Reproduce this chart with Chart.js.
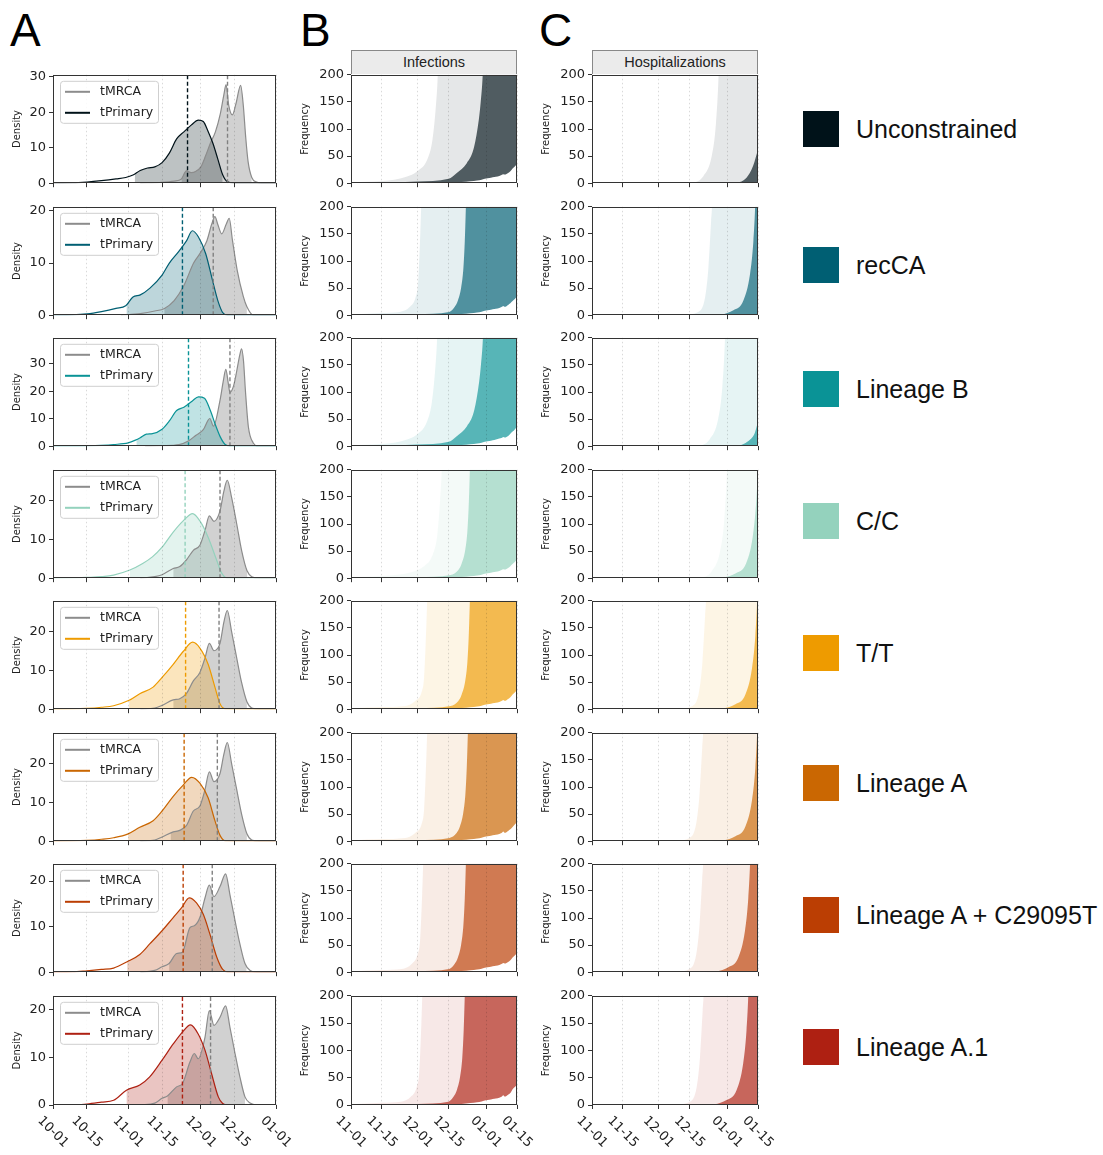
<!DOCTYPE html>
<html lang="en">
<head>
<meta charset="UTF-8">
<title>tPrimary / tMRCA densities and simulated epidemics</title>
<script src="https://cdn.jsdelivr.net/npm/chart.js"></script>
<style>
  body { margin: 0; background: #fff; width: 1103px; height: 1155px; position: relative; overflow: hidden;
         font-family: "Liberation Sans", Arial, sans-serif; }
  .letter { position: absolute; font-size: 46px; line-height: 1; color: #000; }
  .strip { position: absolute; top: 50px; width: 166px; height: 24px; box-sizing: border-box; background: #ebebeb;
           border: 1px solid #888; border-bottom: none; font-size: 14.5px; text-align: center; line-height: 23px; color: #222; }
  .key { position: absolute; left: 803px; height: 36px; display: flex; align-items: center; font-size: 25px; color: #111; white-space: nowrap; }
  .key .sw { width: 36px; height: 36px; margin-right: 17px; }
</style>
</head>
<body>
<div class="letter" style="left:10px;top:7px">A</div>
<div class="letter" style="left:300px;top:7px">B</div>
<div class="letter" style="left:539px;top:7px">C</div>
<div class="strip" style="left:351px">Infections</div>
<div class="strip" style="left:592px">Hospitalizations</div>
<div id="keys"></div>
<script>
const lineages = ['Unconstrained', 'recCA', 'Lineage B', 'C/C', 'T/T', 'Lineage A', 'Lineage A + C29095T', 'Lineage A.1'];
const lineageColors = ['#001219', '#005f73', '#0a9396', '#94d2bd', '#ee9b00', '#ca6702', '#bb3e03', '#ae2012'];
const keyCenters = [129, 265, 389, 521, 653, 783, 915, 1047];

// panel A: days since 10-01
const densityTickDays = [0, 14, 31, 45, 61, 75, 92];
const densityTickLabels = ['10-01', '10-15', '11-01', '11-15', '12-01', '12-15', '01-01'];
const densityMax = [30.6, 20.8, 39.5, 28, 28, 28, 23.8, 22.9];
const densityTicks = [[0, 10, 20, 30], [0, 10, 20], [0, 10, 20, 30], [0, 10, 20], [0, 10, 20], [0, 10, 20], [0, 10, 20], [0, 10, 20]];

const primaryDays = [
  [0, 8, 14, 20, 26, 30, 33, 36, 39, 42, 45, 48, 51, 54, 57, 60, 62, 64, 66, 68, 70, 72, 75, 92],
  [0, 8, 14, 20, 26, 30, 33, 36, 40, 45, 48, 52, 55, 57.5, 60, 63, 66, 68, 70, 72, 92],
  [0, 8, 14, 20, 25, 31, 34, 36, 38.5, 41, 45, 48, 51, 54, 57.5, 60, 62.5, 65, 67, 69, 71, 73, 92],
  [0, 8, 14, 20, 25, 31.7, 37, 41, 45, 49.6, 53.7, 57.6, 60.6, 64, 67.5, 69.6, 72, 92],
  [0, 8, 14, 20, 25, 31.4, 35.8, 41.3, 45, 49.6, 53.7, 57.6, 60.6, 64, 66.8, 68.9, 71, 92],
  [0, 8, 14, 20, 25, 31, 35.8, 41.3, 45, 49.6, 53.7, 57.2, 60.6, 64, 66.8, 68.9, 71, 92],
  [0, 8, 14, 20, 25, 30.6, 35.8, 39.9, 45, 49.6, 53, 56.2, 59.2, 62, 64.7, 67.5, 70, 72, 92],
  [0, 8, 14, 20, 25, 30.3, 35.8, 39.9, 45, 49.6, 53.4, 56.7, 59.9, 62.7, 65.4, 68.2, 70, 72, 92]
];
const primaryDensity = [
  [0, 0.05, 0.3, 0.7, 1.2, 1.6, 2.3, 3.6, 4.3, 4.6, 5.8, 8.5, 12.5, 14.5, 16.4, 17.8, 17.4, 14.6, 11.2, 6.8, 2.4, 0.4, 0, 0],
  [0, 0.05, 0.25, 0.7, 1.3, 1.8, 3.5, 3.9, 5.2, 7.7, 10, 12.3, 14.2, 16.2, 15, 11.8, 6.3, 2.8, 0.5, 0, 0],
  [0, 0, 0.1, 0.3, 0.6, 1.2, 2.2, 3.1, 4.4, 4.6, 6.2, 9.2, 13, 14.2, 16.5, 18, 17.5, 12.8, 7.8, 3.4, 0.6, 0, 0],
  [0, 0.05, 0.2, 0.4, 0.8, 2.1, 3.8, 5.5, 8, 11.9, 14.8, 16.7, 14.8, 10.6, 4.7, 1.3, 0, 0],
  [0, 0.05, 0.2, 0.5, 0.9, 2.3, 4, 5.7, 8.2, 11.6, 14.9, 17.3, 15.8, 11.6, 5.7, 1.4, 0.1, 0],
  [0, 0.05, 0.2, 0.5, 0.9, 1.9, 3.6, 5.3, 7.8, 11.6, 14.5, 16.5, 15, 11.2, 5.3, 1.5, 0.1, 0],
  [0, 0.05, 0.3, 0.6, 0.9, 2.3, 3.9, 6.2, 9.1, 12, 14.1, 16.3, 15.2, 12.7, 8.4, 3.4, 0.6, 0, 0],
  [0, 0.05, 0.2, 0.6, 1, 3.1, 4.2, 5.9, 9.4, 12.8, 15.3, 16.8, 14.9, 11.5, 6.6, 1.7, 0.3, 0, 0]
];
const primaryHpd = [[33.7, 70], [30.3, 70], [34.4, 70.5], [31.7, 69.6], [31.4, 68.9], [31, 68.9], [30.6, 70], [30.3, 70]];
const primaryMedian = [55.5, 53.4, 55.9, 54.5, 54.7, 54.1, 53.7, 53.4];

const mrcaDays = [
  [36, 44, 50, 53, 55, 57, 59, 61, 63, 65, 67, 69, 70.5, 71.4, 72.5, 74, 75.5, 77.4, 78.5, 79.5, 80.5, 82, 84, 86, 92],
  [28, 36, 42, 46, 50, 54, 58, 61, 63.5, 65.5, 66.8, 68, 69.6, 71.5, 72.7, 74, 76, 78.5, 80, 82.6, 86, 92],
  [38, 45, 52, 56, 59, 62, 64.7, 66.2, 68.9, 70.3, 71.3, 72.3, 73, 74.5, 75.8, 77, 77.8, 78.6, 79.4, 80.6, 82.6, 84.7, 92],
  [36, 42, 45, 49.6, 52.3, 55, 57.9, 60.6, 62.7, 64.5, 66.4, 68.9, 70.5, 71.9, 73.7, 75.8, 77.8, 80, 82, 85, 92],
  [36, 42, 45, 49.6, 52.3, 55, 57.9, 60.6, 62.7, 64.5, 66.4, 68.9, 70.5, 71.9, 73.7, 75.8, 77.8, 80, 82, 85, 92],
  [36, 42, 45, 49.6, 52.3, 55, 57.9, 60.6, 62.7, 64.5, 66.4, 68.9, 70.5, 71.9, 73.7, 75.8, 77.8, 80, 82, 85, 92],
  [36, 42, 45, 47.9, 51, 53.4, 56.5, 58.3, 60.6, 62.7, 64.5, 66.4, 68.9, 71.2, 73, 75.1, 77.1, 79.2, 81.3, 84, 92],
  [36, 42, 45, 47.2, 51, 53.4, 56.5, 58.3, 59.9, 62.7, 64.5, 66.4, 68.9, 71.2, 73, 75.1, 77.1, 79.2, 81.3, 84, 92]
];
const mrcaDensity = [
  [0, 0.2, 0.6, 1.2, 3.5, 3.0, 3.4, 4.6, 7.8, 11.4, 14.5, 19.5, 25, 27.8, 22, 19.3, 22.5, 27.6, 22, 13, 6, 1.6, 0.3, 0, 0],
  [0, 0.3, 0.8, 1.3, 2.8, 5.7, 10, 12.1, 14.3, 17.5, 18.9, 17.4, 15.6, 17.5, 18.6, 14.5, 8.6, 3.6, 1.6, 0, 0, 0],
  [0, 0.2, 0.6, 2, 4, 6, 10.1, 7.3, 16.7, 24, 28, 23, 19.6, 22, 27.4, 33, 35.5, 31, 20, 7.1, 1.2, 0, 0],
  [0, 0.4, 0.9, 2.5, 3, 4.7, 7.2, 8.5, 12.3, 16.1, 14.7, 17.4, 22.5, 25.3, 20.8, 14, 7.2, 2, 0.4, 0, 0],
  [0, 0.3, 1, 2.4, 2.7, 4, 7.3, 9.5, 13.2, 17, 15.1, 17, 22.5, 25.5, 20, 13.2, 6.9, 1.9, 0.3, 0, 0],
  [0, 0.3, 1.1, 2.4, 2.8, 4, 7.8, 9.1, 13.3, 17.9, 15.4, 17.5, 22.5, 25.5, 20, 13.3, 7, 1.9, 0.3, 0, 0],
  [0, 0.4, 1.2, 1.9, 4.1, 4.4, 9.8, 10.2, 12, 16.3, 19.1, 16.6, 18.8, 21.6, 17, 11.3, 6.2, 1.9, 0.4, 0, 0],
  [0, 0.4, 1.4, 1.9, 3.8, 4.5, 9, 10.8, 9.7, 14.2, 19.8, 16.7, 18.4, 20.8, 16.3, 10.8, 5.9, 1.7, 0.4, 0, 0]
];
const mrcaHpd = [[53, 82], [45.9, 80], [52, 82.6], [49.6, 80.2], [49.6, 80], [48.5, 80], [47.9, 79.9], [47.2, 79.2]];
const mrcaMedian = [72, 66.1, 73, 68.9, 68.5, 67.8, 65.7, 65];

// panels B and C: days since 11-01
const freqTickDays = [0, 14, 30, 44, 61, 75];
const freqTickLabels = ['11-01', '11-15', '12-01', '12-15', '01-01', '01-15'];
const freqTicks = [0, 50, 100, 150, 200];

const infLowerDays = [0, 40, 45, 50, 54, 57, 59, 61, 62.5, 64, 65.5, 67, 68, 68.8, 69.5, 71, 72, 73, 74, 75];
const infLower = [
  [0, 0.3, 1, 2, 3.5, 5, 6.5, 8.5, 9.5, 11, 12, 13.5, 15, 16.5, 16, 19, 22, 27, 31, 36],
  [0, 0.3, 1, 2, 3.5, 5, 6.5, 8.5, 9.5, 11, 12, 13.5, 15, 17, 15.5, 19, 22, 26, 30, 35],
  [0, 0.3, 1, 2, 3.5, 5, 6.5, 8.5, 9.5, 11, 12.5, 14, 15, 17, 16, 19, 23, 27, 31, 37],
  [0, 0.3, 1, 2, 3.5, 5, 6.5, 8.5, 9.5, 11, 12, 13.5, 15, 16.5, 16, 19, 22, 26, 30, 34],
  [0, 0.3, 1, 2, 3.5, 5, 6.5, 8.5, 9.5, 11, 12, 13.5, 15, 17, 15.5, 19, 22, 27, 31, 36],
  [0, 0.3, 1, 2, 3.5, 5, 6.5, 8.5, 9.5, 11, 12, 13.5, 15, 18, 15.5, 19, 22, 26, 31, 35],
  [0, 0.3, 1, 2, 3.5, 5, 6.5, 8.5, 9.5, 11, 12, 13.5, 15, 17, 16, 19, 22, 27, 31, 36],
  [0, 0.3, 1, 2, 3.5, 5, 6.5, 8.5, 9.5, 11, 12, 13.5, 15, 18, 15.5, 19, 22, 29, 33, 36]
];
const infLightDays = [
  [0, 14, 25, 30, 34.5, 36.8, 38.3, 39.2, 39.6, 75],
  [0, 14, 22, 26.5, 29.2, 30.3, 31, 31.7, 32.1, 75],
  [0, 14, 25, 30, 34.2, 36.5, 38, 38.9, 39.3, 75],
  [0, 14, 28, 33, 37, 39, 40.2, 41, 41.4, 75],
  [0, 14, 24.5, 29, 32, 33, 33.7, 34.4, 34.8, 75],
  [0, 14, 24.5, 29, 32, 33, 33.7, 34.4, 34.8, 75],
  [0, 14, 23, 27.4, 30.1, 31.2, 31.9, 32.6, 33, 75],
  [0, 14, 22.5, 27, 29.7, 30.8, 31.5, 32.2, 32.6, 75]
];
const infLight = [
  [2, 4, 12, 22, 44, 80, 140, 200, 260, 260],
  [1.5, 4, 6, 15, 33, 58, 118, 200, 260, 260],
  [2, 4, 12, 22, 44, 80, 140, 200, 260, 260],
  [2, 4, 12, 22, 44, 80, 140, 200, 260, 260],
  [1.5, 4, 6, 15, 33, 58, 118, 200, 260, 260],
  [1.5, 4, 6, 15, 33, 58, 118, 200, 260, 260],
  [1.5, 4, 6, 15, 33, 58, 118, 200, 260, 260],
  [1.5, 4, 6, 15, 33, 58, 118, 200, 260, 260]
];
const infDarkDays = [
  [0, 14, 30, 44.1, 47.8, 52.3, 55.3, 57.5, 58.6, 59.5, 60, 75],
  [0, 14, 30, 44.4, 46.8, 48.3, 49.8, 50.8, 51.4, 51.9, 52.3, 75],
  [0, 14, 30, 44.2, 47.9, 52.4, 55.4, 57.6, 58.7, 59.6, 60.1, 75],
  [0, 14, 30, 45, 48.5, 50, 51.6, 52.6, 53.2, 53.7, 54.1, 75],
  [0, 14, 30, 45, 48.5, 50, 51.6, 52.6, 53.2, 53.7, 54.1, 75],
  [0, 14, 30, 44.5, 47.7, 49.2, 50.7, 51.7, 52.3, 52.8, 53.2, 75],
  [0, 14, 30, 44.4, 46.8, 48.3, 49.8, 50.8, 51.4, 51.9, 52.3, 75],
  [0, 14, 30, 44, 46.3, 47.8, 49.3, 50.3, 50.9, 51.4, 51.8, 75]
];
const infDark = [
  [0, 0.5, 3, 8, 19, 37, 62, 110, 150, 200, 260, 260],
  [0, 0.5, 2, 6, 15, 27, 52, 88, 136, 200, 260, 260],
  [0, 0.5, 3, 8, 19, 37, 62, 110, 150, 200, 260, 260],
  [0, 0.5, 2, 6, 15, 27, 52, 88, 136, 200, 260, 260],
  [0, 0.5, 2, 6, 15, 27, 52, 88, 136, 200, 260, 260],
  [0, 0.5, 2, 6, 15, 27, 52, 88, 136, 200, 260, 260],
  [0, 0.5, 2, 6, 15, 27, 52, 88, 136, 200, 260, 260],
  [0, 0.5, 2, 6, 15, 27, 52, 88, 136, 200, 260, 260]
];

const hospLightDays = [
  [0, 30, 44.3, 50.3, 54.1, 56, 57.2, 57.6, 75],
  [0, 30, 42, 48, 51.1, 52.6, 53.8, 54.2, 54.6, 75],
  [0, 30, 47.2, 53.2, 57, 58.9, 60.1, 60.5, 75],
  [0, 30, 48.1, 54.1, 57.9, 59.8, 61, 61.4, 75],
  [0, 30, 39.4, 45.4, 48.4, 49.9, 51.1, 51.5, 51.9, 75],
  [0, 30, 38.1, 44.1, 47.1, 48.6, 49.8, 50.2, 50.6, 75],
  [0, 30, 38.1, 44.1, 47.1, 48.6, 49.8, 50.2, 50.6, 75],
  [0, 30, 38.3, 44.3, 47.3, 48.8, 50, 50.4, 50.8, 75]
];
const hospLight = [
  [0, 0, 1, 13, 50, 110, 200, 260, 260],
  [0, 0, 1, 6, 33, 88, 173, 200, 260, 260],
  [0, 0, 1, 13, 50, 110, 200, 260, 260],
  [0, 0, 1, 13, 50, 110, 200, 260, 260],
  [0, 0, 1, 6, 33, 88, 173, 200, 260, 260],
  [0, 0, 1, 6, 33, 88, 173, 200, 260, 260],
  [0, 0, 1, 6, 33, 88, 173, 200, 260, 260],
  [0, 0, 1, 6, 33, 88, 173, 200, 260, 260]
];
const hospDarkDays = [
  [0, 55, 65.3, 69.8, 72.8, 75],
  [0, 53, 63.9, 68.4, 71.4, 72.9, 73.7, 74.1, 75],
  [0, 58, 66, 70.5, 73.5, 75],
  [0, 54, 65, 69.6, 72.6, 74.1, 75],
  [0, 54, 64.8, 69.3, 72.3, 73.8, 74.6, 75],
  [0, 54, 64.8, 69.3, 72.3, 73.8, 74.6, 75],
  [0, 51, 61.6, 66.1, 69.1, 70.6, 71.4, 71.8, 75],
  [0, 50, 60.8, 65.3, 68.3, 69.8, 70.6, 71, 75]
];
const hospDark = [
  [0, 0, 1, 10, 32, 62],
  [0, 0, 9, 27, 76, 136, 200, 260, 260],
  [0, 0, 1, 9, 24, 45],
  [0, 0, 9, 27, 76, 136, 200],
  [0, 0, 9, 27, 76, 136, 200, 260],
  [0, 0, 9, 27, 76, 136, 200, 260],
  [0, 0, 9, 27, 76, 136, 200, 260, 260],
  [0, 0, 9, 27, 76, 136, 200, 260, 260]
];

const FONT = '"DejaVu Sans", sans-serif';
const ROW_TOP = 74, ROW_STEP = 131.5, PLOT_H = 110, PAD_TOP = 10;

function rgba(hex, a) {
  const n = parseInt(hex.slice(1), 16);
  return `rgba(${(n >> 16) & 255},${(n >> 8) & 255},${n & 255},${a})`;
}
function pts(days, vals) {
  return days.map((d, i) => ({ x: d, y: vals[i] }));
}
// same curve restricted to [lo, hi] (the shaded interval)
function clipPts(days, vals, lo, hi) {
  const at = x => {
    for (let i = 1; i < days.length; i++) {
      if (days[i] >= x) {
        const t = (x - days[i - 1]) / (days[i] - days[i - 1]);
        return vals[i - 1] + t * (vals[i] - vals[i - 1]);
      }
    }
    return vals[vals.length - 1];
  };
  const out = [{ x: lo, y: at(lo) }];
  days.forEach((d, i) => { if (d > lo && d < hi) out.push({ x: d, y: vals[i] }); });
  out.push({ x: hi, y: at(hi) });
  return out;
}
function addCanvas(left, top, w, h) {
  const c = document.createElement('canvas');
  c.width = w; c.height = h;
  c.style.cssText = `position:absolute;left:${left}px;top:${top}px;width:${w}px;height:${h}px`;
  document.body.appendChild(c);
  return c;
}

// box round the plot area
const framePlugin = {
  id: 'frame',
  afterDraw(chart) {
    const a = chart.chartArea, ctx = chart.ctx;
    ctx.save();
    ctx.strokeStyle = '#333';
    ctx.lineWidth = 1;
    ctx.strokeRect(Math.round(a.left) + 0.5, Math.round(a.top) + 0.5, Math.round(a.right - a.left) - 1, Math.round(a.bottom - a.top) - 1);
    ctx.restore();
  }
};

// tMRCA / tPrimary key inside panel A
const densityKey = {
  id: 'densityKey',
  afterDraw(chart, args, opts) {
    if (!opts.items) return;
    const a = chart.chartArea, ctx = chart.ctx;
    const x = a.left + 7, y = a.top + 6;
    ctx.save();
    ctx.beginPath();
    ctx.roundRect(x + 0.5, y + 0.5, 98, 42, 3);
    ctx.fillStyle = 'rgba(255,255,255,0.85)';
    ctx.fill();
    ctx.strokeStyle = '#cfcfcf';
    ctx.lineWidth = 1;
    ctx.stroke();
    ctx.font = '12.5px ' + FONT;
    ctx.textBaseline = 'middle';
    ctx.textAlign = 'left';
    opts.items.forEach((it, k) => {
      const yy = y + 11 + k * 21;
      ctx.strokeStyle = it.color;
      ctx.lineWidth = 2;
      ctx.beginPath();
      ctx.moveTo(x + 5, yy);
      ctx.lineTo(x + 30, yy);
      ctx.stroke();
      ctx.fillStyle = '#222';
      ctx.fillText(it.label, x + 40, yy);
    });
    ctx.restore();
  }
};

// slanted date labels on the bottom row
const dateLabels = {
  id: 'dateLabels',
  afterDraw(chart, args, opts) {
    if (!opts.labels) return;
    const xs = chart.scales.x, ctx = chart.ctx;
    ctx.save();
    ctx.font = '13px ' + FONT;
    ctx.fillStyle = '#222';
    ctx.textAlign = 'center';
    ctx.textBaseline = 'middle';
    xs.ticks.forEach((t, k) => {
      ctx.save();
      ctx.translate(xs.getPixelForValue(t.value), chart.chartArea.bottom + 27);
      ctx.rotate(Math.PI / 4);
      ctx.fillText(opts.labels[k], 0, 0);
      ctx.restore();
    });
    ctx.restore();
  }
};

function xScale(max, tickDays, bottom) {
  return {
    type: 'linear', min: 0, max: max,
    afterBuildTicks: s => { s.ticks = tickDays.map(v => ({ value: v })); },
    afterFit: s => { s.height = bottom ? 50 : 10; },
    ticks: { display: false },
    grid: { color: 'rgba(0,0,0,0.15)', lineWidth: 1, z: 1, drawTicks: true, tickLength: 4,
            tickColor: '#333', tickWidth: 1, tickBorderDash: [] },
    border: { display: false, dash: [1.5, 2.5] }
  };
}
function yScale(max, ticks, width, title, titleOffset) {
  return {
    min: 0, max: max,
    afterBuildTicks: s => { s.ticks = ticks.map(v => ({ value: v })); },
    afterFit: s => { s.width = width; },
    ticks: { font: { family: FONT, size: 13 }, color: '#222', padding: 3 },
    grid: { drawOnChartArea: false, drawTicks: true, tickLength: 4, tickColor: '#333', tickWidth: 1 },
    border: { display: false },
    title: { display: true, text: title, color: '#222', font: { family: FONT, size: 10 },
             padding: { top: titleOffset, bottom: 0 } }
  };
}
function baseOptions(scales, plugins, padRight) {
  return {
    responsive: false, animation: false, devicePixelRatio: 1, events: [],
    layout: { padding: { top: PAD_TOP, right: padRight, left: 0, bottom: 0 } },
    elements: { point: { radius: 0 }, line: { cubicInterpolationMode: 'monotone' } },
    scales: scales,
    plugins: Object.assign({ legend: { display: false }, tooltip: { enabled: false } }, plugins)
  };
}

function densityChart(i) {
  const top = Math.round(ROW_TOP + ROW_STEP * i);
  const bottom = i === lineages.length - 1;
  const col = lineageColors[i];
  const padRight = bottom ? 24 : 4;
  const canvas = addCanvas(0, top - PAD_TOP, 276 + padRight, PAD_TOP + PLOT_H + (bottom ? 50 : 10));
  const vline = (x, color) => ({
    data: [{ x: x, y: 0 }, { x: x, y: densityMax[i] }], borderColor: color, borderWidth: 1.4,
    borderDash: [4, 2.5], cubicInterpolationMode: 'default', tension: 0, fill: false
  });
  new Chart(canvas, {
    type: 'line',
    data: {
      datasets: [
        Object.assign(vline(primaryMedian[i], col), { label: 'tPrimary median', order: 0 }),
        Object.assign(vline(mrcaMedian[i], '#808080'), { label: 'tMRCA median', order: 1 }),
        { label: 'tPrimary', data: pts(primaryDays[i], primaryDensity[i]), borderColor: col, borderWidth: 1.2, fill: false, order: 2 },
        { label: 'tMRCA', data: pts(mrcaDays[i], mrcaDensity[i]), borderColor: '#8c8c8c', borderWidth: 1.2, fill: false, order: 3 },
        { label: 'tPrimary interval', data: clipPts(primaryDays[i], primaryDensity[i], primaryHpd[i][0], primaryHpd[i][1]),
          borderWidth: 0, backgroundColor: rgba(col, 0.26), fill: 'origin', order: 4 },
        { label: 'tMRCA interval', data: clipPts(mrcaDays[i], mrcaDensity[i], mrcaHpd[i][0], mrcaHpd[i][1]),
          borderWidth: 0, backgroundColor: 'rgba(128,128,128,0.36)', fill: 'origin', order: 5 }
      ]
    },
    options: baseOptions(
      { x: xScale(92, densityTickDays, bottom), y: yScale(densityMax[i], densityTicks[i], 53, 'Density', 11) },
      { densityKey: { items: [{ label: 'tMRCA', color: '#8c8c8c' }, { label: 'tPrimary', color: col }] },
        dateLabels: { labels: bottom ? densityTickLabels : null } },
      padRight
    ),
    plugins: [framePlugin, densityKey, dateLabels]
  });
}

function frequencyChart(i, left, lowerDays, lower, lightDays, light, darkDays, dark) {
  const top = Math.round(ROW_TOP + ROW_STEP * i);
  const bottom = i === lineages.length - 1;
  const col = lineageColors[i];
  const padRight = bottom ? 24 : 4;
  const canvas = addCanvas(left, top - PAD_TOP, 227 + padRight, PAD_TOP + PLOT_H + (bottom ? 50 : 10));
  const datasets = [
    { label: 'upper (95%)', data: pts(darkDays, dark), borderWidth: 0, backgroundColor: rgba(col, 0.65), fill: 'origin', order: 1 },
    { label: 'upper (all)', data: pts(lightDays, light), borderWidth: 0, backgroundColor: rgba(col, 0.1), fill: 'origin', order: 2 }
  ];
  if (lowerDays) {
    datasets.unshift({ label: 'lower', data: pts(lowerDays, lower), borderWidth: 0, backgroundColor: '#ffffff', fill: 'origin', order: 0 });
  }
  new Chart(canvas, {
    type: 'line',
    data: { datasets: datasets },
    options: baseOptions(
      { x: xScale(75, freqTickDays, bottom), y: yScale(200, freqTicks, 61, 'Frequency', 9) },
      { dateLabels: { labels: bottom ? freqTickLabels : null } },
      padRight
    ),
    plugins: [framePlugin, dateLabels]
  });
}

lineages.forEach((name, i) => {
  densityChart(i);
  frequencyChart(i, 290, infLowerDays, infLower[i], infLightDays[i], infLight[i], infDarkDays[i], infDark[i]);
  frequencyChart(i, 531, null, null, hospLightDays[i], hospLight[i], hospDarkDays[i], hospDark[i]);

  const key = document.createElement('div');
  key.className = 'key';
  key.style.top = (keyCenters[i] - 18) + 'px';
  key.innerHTML = `<span class="sw" style="background:${lineageColors[i]}"></span><span>${name}</span>`;
  document.getElementById('keys').appendChild(key);
});
</script>
</body>
</html>
